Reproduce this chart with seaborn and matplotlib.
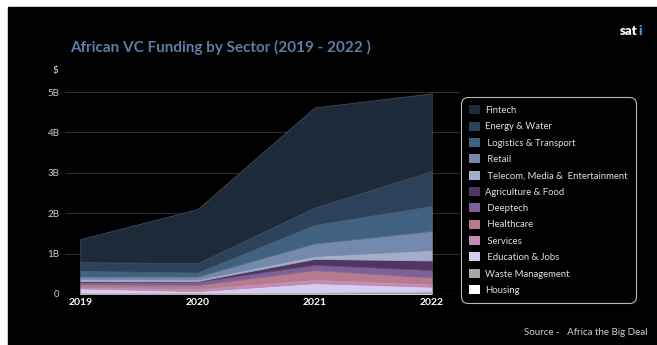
import numpy as np
import matplotlib.pyplot as plt
import matplotlib.patches as mpatches
import matplotlib.colors as mcolors
import seaborn as sns

sns.set_theme(style="dark")
plt.rcParams['font.family'] = ['Lato', 'DejaVu Sans']

# data (billions of USD)
years = [2019, 2020, 2021, 2022]
sectors = ["Fintech", "Energy & Water", " Logistics & Transport", " Retail",
           " Telecom, Media &  Entertainment", "Agriculture & Food", " Deeptech",
           " Healthcare", " Services", " Education & Jobs", "Waste Management", "Housing"]
fintech = [0.57, 1.34, 2.48, 1.93]
energy = [0.22, 0.23, 0.43, 0.86]
logistics = [0.14, 0.10, 0.46, 0.62]
retail = [0.06, 0.07, 0.31, 0.47]
telecom = [0.05, 0.04, 0.07, 0.26]
agriculture = [0.03, 0.02, 0.15, 0.24]
deeptech = [0.05, 0.08, 0.13, 0.18]
healthcare = [0.06, 0.08, 0.22, 0.15]
services = [0.04, 0.07, 0.10, 0.08]
education = [0.12, 0.05, 0.24, 0.12]
waste = [0.015, 0.015, 0.02, 0.04]
housing = [0.005, 0.005, 0.01, 0.02]

colors = ["#1c2a3a", "#2b425a", "#40617f", "#7389ad", "#a4adcb", "#4f3563",
          "#7e5f97", "#b87a8c", "#c98ab6", "#d9ccf2", "#a6a6a6", "#ffffff"]
palette = sns.color_palette(colors)

# bottom-up order for stacking
stack = [housing, waste, education, services, healthcare, deeptech,
         agriculture, telecom, retail, logistics, energy, fintech]
stack_colors = palette[::-1]

fig = plt.figure(figsize=(6.57, 3.45), dpi=100, facecolor="white")
fig.patches.append(mpatches.Rectangle((8 / 657, 0), 1, 1 - 7 / 345,
                                      transform=fig.transFigure, color="black",
                                      zorder=-10))
ax = fig.add_axes([0.099, 0.148, 0.601, 0.585])
ax.set_zorder(2)
ax.set_facecolor("black")

polys = ax.stackplot(years, *stack, colors=stack_colors, zorder=3)
for p, c in zip(polys, stack_colors):
    edge = mcolors.to_rgb(c)
    edge = tuple(min(1, v * 0.7 + 0.3 * 0.6) for v in edge)
    p.set_edgecolor(edge)
    p.set_linewidth(0.6)

ax.set_xlim(2018.87, 2022.24)
ax.set_ylim(0, 5)
ax.set_xticks(years)
ax.set_xticklabels([str(y) for y in years], color="white", fontsize=7.5,
                   fontweight="bold")
ax.set_yticks([0, 1, 2, 3, 4, 5])
ax.set_yticklabels(["0", "1B", "2B", "3B", "4B", "5B"], color="#d0d0d0",
                   fontsize=7)
ax.tick_params(axis="x", pad=3, length=0)
ax.tick_params(axis="y", pad=4, length=0)
ax.grid(axis="y", color="#2a2a2a", linewidth=0.8, zorder=0)
ax.grid(axis="x", visible=False)
ax.axhline(0, color="#666666", linewidth=0.8, zorder=4)
for s in ax.spines.values():
    s.set_visible(False)

handles = [mpatches.Patch(facecolor=c, edgecolor="none") for c in palette]
leg = fig.legend(handles, sectors, loc="upper left",
                 bbox_to_anchor=(0.695, 0.732), frameon=True, fontsize=6.8,
                 handlelength=1.1, handleheight=1.1, labelspacing=0.7,
                 borderpad=0.85, handletextpad=0.6, fancybox=True)
leg.set_zorder(5)
leg.get_frame().set_facecolor("black")
leg.get_frame().set_edgecolor("#bbbbbb")
leg.get_frame().set_linewidth(0.8)
leg.get_frame().set_alpha(1)
leg.get_frame().set_boxstyle("round,pad=0,rounding_size=0.7")
for t in leg.get_texts():
    t.set_color("#e0e0e0")

fig.text(0.107, 0.862, "African VC Funding by Sector (2019 - 2022 )",
         color="#5b7fa6", fontsize=11, fontweight="bold", va="center")
fig.text(0.080, 0.797, "$", color="#e0e0e0", fontsize=7, va="center")
fig.text(0.943, 0.91, "sat", color="white", fontsize=9.5, fontweight="heavy",
         va="center", ha="left")
fig.text(0.972, 0.91, "i", color="#4a90d9", fontsize=9.5, fontweight="heavy",
         va="center", ha="left")
fig.text(0.985, 0.035, "Source -   Africa the Big Deal", color="#d0d0d0",
         fontsize=7, ha="right", va="center")

fig.savefig("out.png", dpi=100, facecolor=fig.get_facecolor())
